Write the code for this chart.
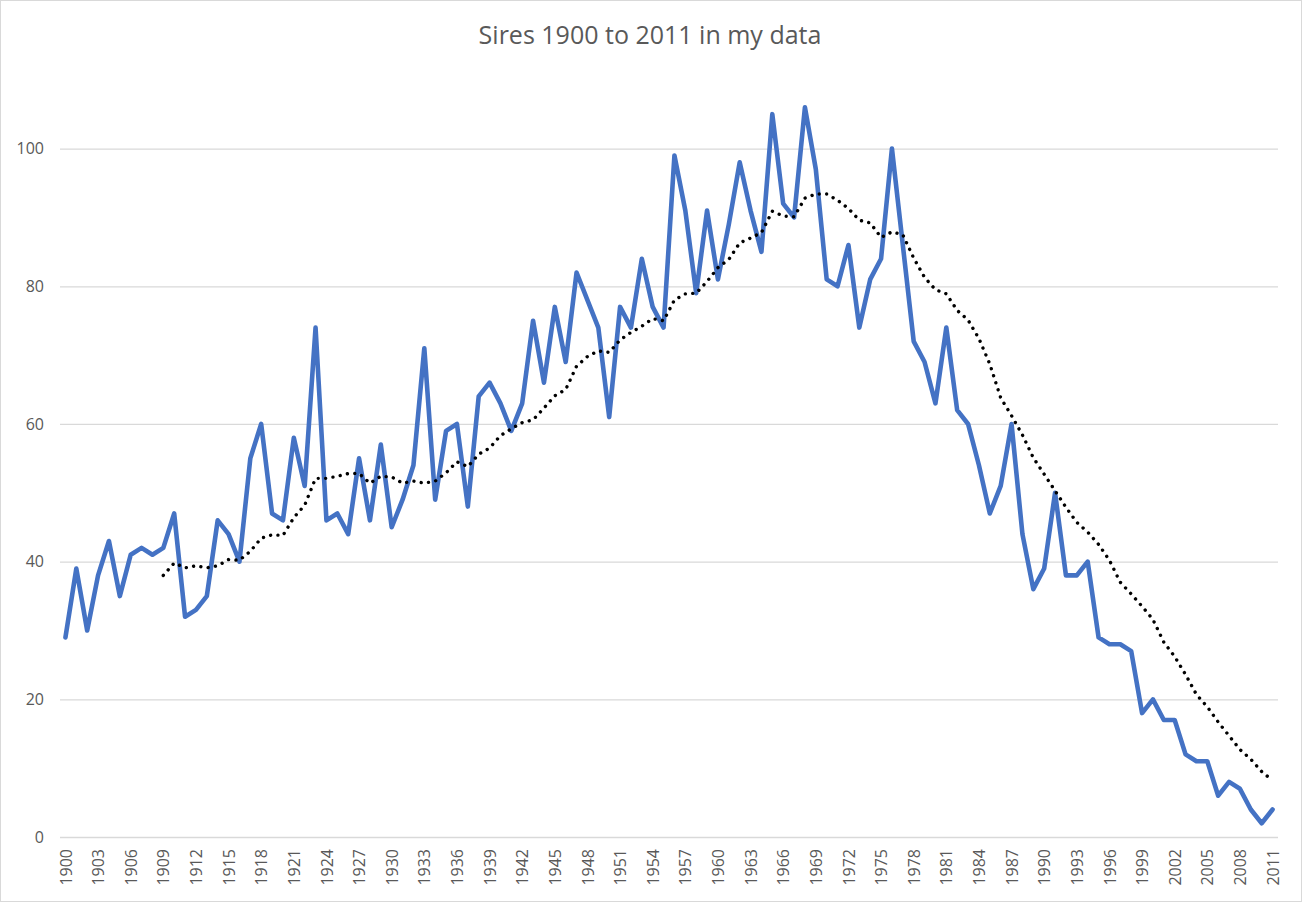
<!DOCTYPE html>
<html>
<head>
<meta charset="utf-8">
<script src="https://cdn.jsdelivr.net/npm/d3@7"></script>
<style>
  body { margin: 0; background: #fff; }
  text { font-family: "Open Sans", "Noto Sans", sans-serif; fill: #595959; }
</style>
</head>
<body>
<div id="chart"></div>
<script>
// Years on the category axis
var years = d3.range(1900, 2012);

// Sires per year
var sires = [
  29, 39, 30, 38, 43, 35, 41, 42, 41, 42,
  47, 32, 33, 35, 46, 44, 40, 55, 60, 47,
  46, 58, 51, 74, 46, 47, 44, 55, 46, 57,
  45, 49, 54, 71, 49, 59, 60, 48, 64, 66,
  63, 59, 63, 75, 66, 77, 69, 82, 78, 74,
  61, 77, 74, 84, 77, 74, 99, 91, 79, 91,
  81, 89, 98, 91, 85, 105, 92, 90, 106, 97,
  81, 80, 86, 74, 81, 84, 100, 86, 72, 69,
  63, 74, 62, 60, 54, 47, 51, 60, 44, 36,
  39, 50, 38, 38, 40, 29, 28, 28, 27, 18,
  20, 17, 17, 12, 11, 11, 6, 8, 7, 4,
  2, 4
];

// Dotted trend (10 year moving average), from 1909 on
var trendStart = 1909;
var trend = [
  38.0, 39.8, 39.1, 39.4, 39.1, 39.4, 40.3, 40.2, 41.5, 43.4,
  43.9, 43.8, 46.4, 48.2, 52.1, 52.1, 52.4, 52.8, 52.8, 51.4,
  52.4, 52.3, 51.4, 51.7, 51.4, 51.7, 52.9, 54.5, 53.8, 55.6,
  56.5, 58.3, 59.3, 60.2, 60.6, 62.3, 64.1, 65.0, 68.4, 69.8,
  70.6, 70.4, 72.2, 73.3, 74.2, 75.3, 75.0, 78.0, 78.9, 79.0,
  80.7, 82.7, 83.9, 86.3, 87.0, 87.8, 90.9, 90.2, 90.1, 92.8,
  93.4, 93.4, 92.5, 91.3, 89.6, 89.2, 87.1, 87.9, 87.5, 84.1,
  81.3, 79.5, 78.9, 76.5, 75.1, 72.4, 68.7, 63.8, 61.2, 58.4,
  55.1, 52.7, 50.3, 47.9, 45.7, 44.3, 42.5, 40.2, 37.0, 35.3,
  33.5, 31.6, 28.3, 26.2, 23.6, 20.7, 18.9, 16.7, 14.7, 12.7,
  11.3, 9.5, 8.2
];

var yTicks = [0, 20, 40, 60, 80, 100];
var title = "Sires 1900 to 2011 in my data";

var svgWidth = 1302;
var svgHeight = 902;

var plot = { left: 60, right: 1278, top: 148.6, bottom: 837 };

var svg = d3
  .select("#chart")
  .append("svg")
  .attr("width", svgWidth)
  .attr("height", svgHeight);

// Chart border
svg
  .append("rect")
  .attr("x", 0.5)
  .attr("y", 0.5)
  .attr("width", svgWidth - 1)
  .attr("height", svgHeight - 1)
  .attr("fill", "#fff")
  .attr("stroke", "#d9d9d9");

var xScale = d3
  .scalePoint()
  .domain(years)
  .range([plot.left, plot.right])
  .padding(0.5);

var yScale = d3
  .scaleLinear()
  .domain([0, 100])
  .range([plot.bottom, plot.top]);

// Gridlines + y labels
var yAxis = d3
  .axisLeft(yScale)
  .tickValues(yTicks)
  .tickSize(-(plot.right - plot.left))
  .tickPadding(16);

var yAxisGroup = svg
  .append("g")
  .attr("transform", `translate(${plot.left}, 0)`)
  .call(yAxis);

yAxisGroup.select(".domain").remove();
yAxisGroup.selectAll("line").attr("stroke", "#d9d9d9").attr("stroke-width", 1.3);
yAxisGroup
  .selectAll("text")
  .style("font-size", "16px")
  .attr("fill", "#595959");

// x labels, every third year, rotated
var xAxis = d3
  .axisBottom(xScale)
  .tickValues(years.filter((d) => (d - 1900) % 3 === 0))
  .tickSize(0);

var xAxisGroup = svg
  .append("g")
  .attr("transform", `translate(0, ${plot.bottom})`)
  .call(xAxis);

xAxisGroup.select(".domain").remove();
xAxisGroup
  .selectAll("text")
  .style("font-size", "16px")
  .attr("fill", "#595959")
  .attr("transform", "rotate(-90)")
  .attr("text-anchor", "end")
  .attr("x", -12)
  .attr("y", 0)
  .attr("dy", "0.35em");

// Blue series
var line = d3
  .line()
  .x((d, i) => xScale(years[i]))
  .y((d) => yScale(d));

svg
  .append("path")
  .datum(sires)
  .attr("d", line)
  .attr("fill", "none")
  .attr("stroke", "#4472c4")
  .attr("stroke-width", 4.6)
  .attr("stroke-linejoin", "round")
  .attr("stroke-linecap", "round");

// Dotted moving average
var trendLine = d3
  .line()
  .x((d, i) => xScale(trendStart + i))
  .y((d) => yScale(d));

svg
  .append("path")
  .datum(trend)
  .attr("d", trendLine)
  .attr("fill", "none")
  .attr("stroke", "#000")
  .attr("stroke-width", 3.4)
  .attr("stroke-linecap", "round")
  .attr("stroke-dasharray", "0.01 7.4");

// Title
svg
  .append("text")
  .attr("x", 650)
  .attr("y", 44)
  .attr("text-anchor", "middle")
  .style("font-size", "25px")
  .text(title);
</script>
</body>
</html>
